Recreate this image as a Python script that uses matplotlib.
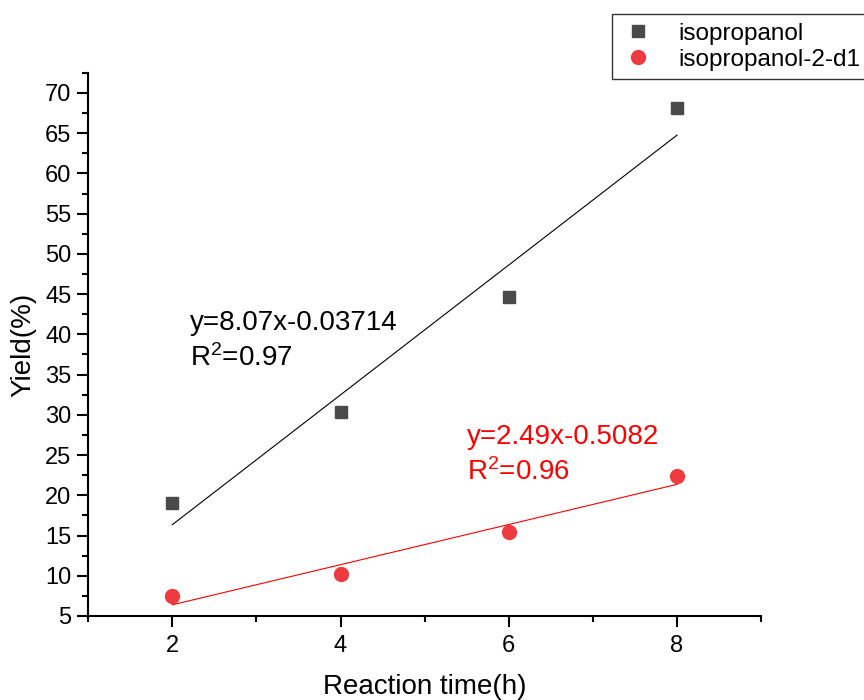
import matplotlib
matplotlib.use("Agg")
import matplotlib.pyplot as plt
import numpy as np
from matplotlib.ticker import MultipleLocator

plt.rcParams["font.family"] = ["Liberation Sans", "DejaVu Sans"]
plt.rcParams["mathtext.fontset"] = "custom"
plt.rcParams["mathtext.rm"] = "Liberation Sans"
plt.rcParams["mathtext.it"] = "Liberation Sans"
plt.rcParams["mathtext.default"] = "regular"

# data
reaction_time = [2, 4, 6, 8]
yield_iso = [19.1, 30.3, 44.7, 68.1]
yield_iso_d1 = [7.5, 10.2, 15.4, 22.4]

label_iso = "isopropanol"
label_d1 = "isopropanol-2-d1"
eq_iso = ["y=8.07x-0.03714", r"R$^{2}$=0.97"]
eq_d1 = ["y=2.49x-0.5082", r"R$^{2}$=0.96"]

fig = plt.figure(figsize=(8.64, 7.0), dpi=100)
ax = fig.add_axes([0.102, 0.12, 0.779, 0.776])

ax.plot(reaction_time, yield_iso, "s", color="#4a4a4a", markersize=8.5, label=label_iso)
ax.plot(reaction_time, yield_iso_d1, "o", color="#ee3b3f", markersize=10, label=label_d1)

# linear fits
xs = np.array(reaction_time)
k1, b1 = np.polyfit(xs, yield_iso, 1)
k2, b2 = np.polyfit(xs, yield_iso_d1, 1)
ax.plot(xs[[0, -1]], k1 * xs[[0, -1]] + b1, color="black", lw=0.8)
ax.plot(xs[[0, -1]], k2 * xs[[0, -1]] + b2, color="red", lw=0.8)

ax.text(2.21, 41.4, eq_iso[0], fontsize=20, va="center", color="black")
ax.text(2.21, 37.0, eq_iso[1], fontsize=20, va="center", color="black")
ax.text(5.5, 27.2, eq_d1[0], fontsize=20, va="center", color="red")
ax.text(5.5, 22.9, eq_d1[1], fontsize=20, va="center", color="red")

ax.set_xlim(1, 9)
ax.set_ylim(5, 72.5)
ax.xaxis.set_major_locator(MultipleLocator(2))
ax.xaxis.set_minor_locator(MultipleLocator(1))
ax.yaxis.set_major_locator(MultipleLocator(5))
ax.yaxis.set_minor_locator(MultipleLocator(2.5))

for side in ["top", "right"]:
    ax.spines[side].set_visible(False)
for side in ["left", "bottom"]:
    ax.spines[side].set_linewidth(1.5)

ax.tick_params(which="major", direction="out", length=8, width=1.5, labelsize=17)
ax.tick_params(which="minor", direction="out", length=4, width=1.5)
ax.tick_params(axis="x", pad=6)
ax.tick_params(axis="y", pad=4)

ax.set_xlabel("Reaction time(h)", fontsize=20, labelpad=12)
ax.set_ylabel("Yield(%)", fontsize=20, labelpad=6)

# legend box runs past the right edge, as in the original
fig.legend(
    loc="upper left",
    bbox_to_anchor=(0.708, 0.98),
    borderaxespad=0,
    fontsize=17.5,
    frameon=True,
    fancybox=False,
    edgecolor="black",
    handletextpad=0.9,
    borderpad=0.35,
    labelspacing=0.18,
    handlelength=1.5,
)

fig.savefig("out.png", dpi=100)
